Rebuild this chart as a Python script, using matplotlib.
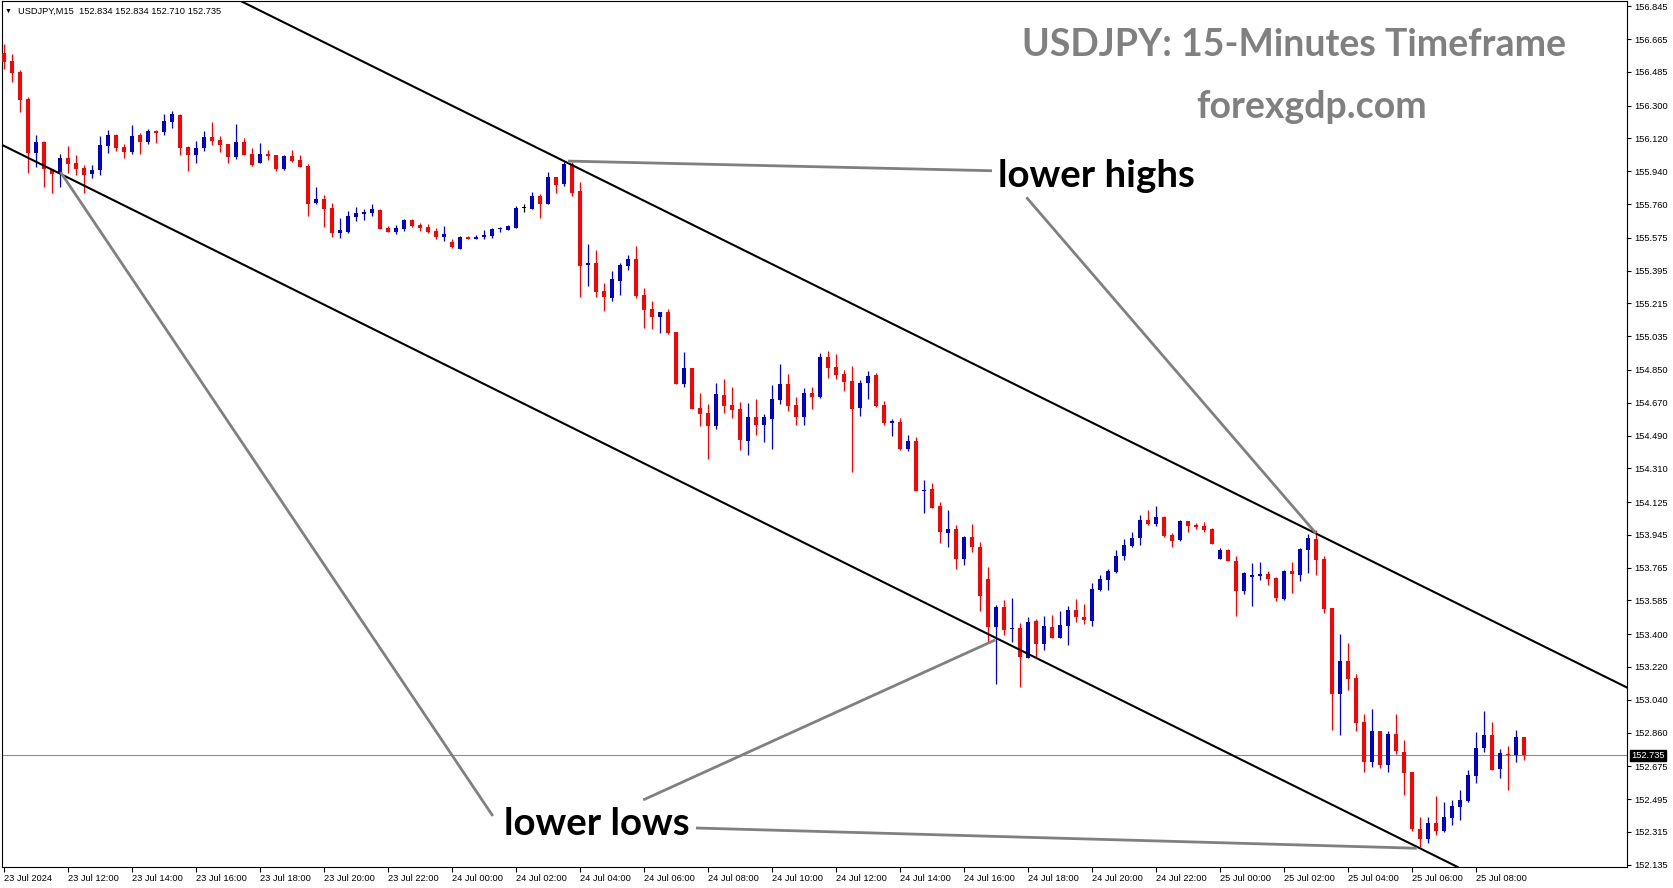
import numpy as np
import matplotlib
matplotlib.use("Agg")
import matplotlib.pyplot as plt
import matplotlib.transforms as mtransforms

# USDJPY M15 candles, 23 Jul 10:00 -> 25 Jul 09:30
opens = [156.591, 156.545, 156.485, 156.337, 156.042, 156.101, 155.951, 155.929, 156.013, 155.985,
         155.958, 155.927, 155.949, 156.080, 156.139, 156.073, 156.048, 156.139, 156.101, 156.163,
         156.157, 156.212, 156.249, 156.073, 156.031, 156.069, 156.128, 156.112, 156.090, 156.020,
         156.101, 156.035, 155.987, 156.035, 156.029, 155.954, 156.024, 156.002, 155.969, 155.768,
         155.788, 155.740, 155.603, 155.607, 155.689, 155.706, 155.713, 155.728, 155.629, 155.607,
         155.625, 155.673, 155.647, 155.636, 155.614, 155.581, 155.552, 155.515, 155.579, 155.570,
         155.581, 155.586, 155.622, 155.619, 155.630, 155.737, 155.735, 155.804, 155.762, 155.907,
         155.872, 155.980, 155.832, 155.427, 155.437, 155.283, 155.246, 155.340, 155.422, 155.459,
         155.261, 155.184, 155.142, 155.168, 155.058, 154.774, 154.860, 154.643, 154.613, 154.544,
         154.712, 154.657, 154.635, 154.461, 154.592, 154.549, 154.582, 154.686, 154.773, 154.657,
         154.593, 154.723, 154.703, 154.921, 154.866, 154.828, 154.789, 154.639, 154.778, 154.822,
         154.657, 154.560, 154.564, 154.416, 154.460, 154.187, 154.196, 154.103, 153.957, 153.977,
         153.814, 153.933, 153.878, 153.702, 153.441, 153.549, 153.426, 153.434, 153.271, 153.472,
         153.347, 153.441, 153.380, 153.446, 153.532, 153.494, 153.474, 153.642, 153.699, 153.743,
         153.830, 153.884, 153.929, 154.026, 154.004, 154.043, 153.944, 153.918, 154.019, 154.000,
         153.993, 153.977, 153.814, 153.862, 153.803, 153.638, 153.715, 153.719, 153.730, 153.708,
         153.594, 153.746, 153.726, 153.863, 153.922, 153.812, 153.543, 153.073, 153.252, 153.159,
         152.918, 152.700, 152.868, 152.683, 152.852, 152.753, 152.643, 152.332, 152.277, 152.362,
         152.321, 152.392, 152.453, 152.486, 152.623, 152.775, 152.846, 152.661, 152.742, 152.737,
         152.834]
highs = [156.639, 156.584, 156.496, 156.346, 156.139, 156.105, 155.955, 156.035, 156.079, 156.028,
         155.976, 155.974, 156.134, 156.167, 156.142, 156.090, 156.194, 156.152, 156.170, 156.166,
         156.254, 156.271, 156.254, 156.077, 156.106, 156.161, 156.210, 156.134, 156.091, 156.200,
         156.124, 156.069, 156.095, 156.057, 156.031, 156.028, 156.057, 156.028, 155.980, 155.852,
         155.808, 155.764, 155.684, 155.722, 155.744, 155.733, 155.760, 155.733, 155.640, 155.645,
         155.678, 155.678, 155.656, 155.651, 155.629, 155.641, 155.568, 155.584, 155.586, 155.590,
         155.618, 155.630, 155.634, 155.647, 155.750, 155.759, 155.826, 155.815, 155.936, 155.909,
         155.993, 155.993, 155.881, 155.541, 155.508, 155.327, 155.393, 155.438, 155.481, 155.530,
         155.300, 155.228, 155.170, 155.184, 155.060, 154.948, 154.862, 154.723, 154.663, 154.778,
         154.800, 154.756, 154.674, 154.668, 154.690, 154.608, 154.767, 154.882, 154.828, 154.701,
         154.751, 154.756, 154.944, 154.954, 154.937, 154.849, 154.871, 154.795, 154.844, 154.833,
         154.679, 154.581, 154.584, 154.493, 154.482, 154.246, 154.228, 154.123, 154.081, 153.997,
         153.938, 154.004, 153.905, 153.767, 153.560, 153.587, 153.600, 153.461, 153.496, 153.485,
         153.501, 153.507, 153.528, 153.556, 153.593, 153.565, 153.681, 153.724, 153.757, 153.862,
         153.922, 153.960, 154.054, 154.081, 154.103, 154.048, 153.957, 154.025, 154.021, 154.010,
         154.015, 153.980, 153.871, 153.866, 153.829, 153.743, 153.790, 153.796, 153.746, 153.712,
         153.752, 153.796, 153.873, 153.949, 153.971, 153.829, 153.545, 153.401, 153.351, 153.181,
         152.963, 152.989, 152.870, 152.868, 152.962, 152.819, 152.645, 152.398, 152.398, 152.513,
         152.479, 152.490, 152.545, 152.656, 152.863, 152.980, 152.918, 152.770, 152.786, 152.874,
         152.834]
lows = [156.500, 156.432, 156.267, 155.932, 155.965, 155.852, 155.822, 155.852, 155.929, 155.918,
        155.822, 155.905, 155.920, 156.042, 156.050, 156.015, 156.035, 156.035, 156.091, 156.097,
        156.141, 156.178, 156.031, 155.943, 155.987, 156.050, 156.086, 156.048, 155.987, 156.009,
        156.028, 155.970, 155.984, 156.004, 155.943, 155.947, 155.991, 155.962, 155.696, 155.760,
        155.636, 155.581, 155.575, 155.603, 155.669, 155.674, 155.696, 155.622, 155.607, 155.596,
        155.614, 155.636, 155.614, 155.603, 155.570, 155.559, 155.521, 155.512, 155.568, 155.568,
        155.570, 155.575, 155.608, 155.616, 155.628, 155.717, 155.731, 155.684, 155.760, 155.822,
        155.859, 155.806, 155.252, 155.312, 155.252, 155.175, 155.230, 155.263, 155.400, 155.246,
        155.082, 155.076, 155.054, 155.049, 154.772, 154.758, 154.635, 154.544, 154.363, 154.527,
        154.615, 154.588, 154.412, 154.385, 154.494, 154.456, 154.418, 154.665, 154.626, 154.549,
        154.549, 154.637, 154.697, 154.807, 154.802, 154.736, 154.290, 154.599, 154.692, 154.648,
        154.549, 154.487, 154.412, 154.405, 154.185, 154.065, 154.092, 153.900, 153.878, 153.757,
        153.779, 153.851, 153.528, 153.350, 153.128, 153.397, 153.358, 153.111, 153.268, 153.276,
        153.314, 153.378, 153.378, 153.342, 153.468, 153.457, 153.446, 153.639, 153.642, 153.737,
        153.807, 153.880, 153.891, 154.000, 153.995, 153.931, 153.880, 153.913, 153.962, 153.975,
        153.962, 153.894, 153.812, 153.800, 153.501, 153.622, 153.556, 153.699, 153.671, 153.583,
        153.589, 153.627, 153.693, 153.737, 153.726, 153.518, 152.874, 152.846, 153.095, 152.870,
        152.645, 152.672, 152.664, 152.645, 152.744, 152.519, 152.321, 152.233, 152.255, 152.299,
        152.316, 152.354, 152.382, 152.480, 152.585, 152.755, 152.654, 152.612, 152.546, 152.700,
        152.710]
closes = [156.541, 156.481, 156.333, 156.042, 156.101, 155.951, 155.927, 156.013, 155.982, 155.954,
          155.921, 155.945, 156.084, 156.138, 156.069, 156.048, 156.134, 156.101, 156.159, 156.152,
          156.216, 156.254, 156.069, 156.031, 156.068, 156.128, 156.108, 156.086, 156.020, 156.101,
          156.031, 155.974, 156.035, 156.026, 155.954, 156.024, 155.996, 155.965, 155.762, 155.788,
          155.735, 155.603, 155.618, 155.695, 155.711, 155.718, 155.733, 155.625, 155.608, 155.629,
          155.673, 155.641, 155.630, 155.608, 155.581, 155.596, 155.526, 155.581, 155.570, 155.581,
          155.592, 155.625, 155.625, 155.641, 155.740, 155.737, 155.804, 155.762, 155.909, 155.866,
          155.980, 155.822, 155.422, 155.437, 155.279, 155.252, 155.349, 155.426, 155.459, 155.257,
          155.180, 155.142, 155.168, 155.054, 154.774, 154.860, 154.637, 154.610, 154.544, 154.718,
          154.654, 154.632, 154.467, 154.592, 154.549, 154.592, 154.690, 154.773, 154.654, 154.593,
          154.723, 154.703, 154.921, 154.860, 154.822, 154.785, 154.637, 154.778, 154.817, 154.652,
          154.560, 154.571, 154.416, 154.460, 154.187, 154.193, 154.094, 153.960, 153.977, 153.814,
          153.933, 153.880, 153.611, 153.441, 153.549, 153.424, 153.434, 153.276, 153.466, 153.347,
          153.446, 153.380, 153.450, 153.532, 153.496, 153.477, 153.648, 153.702, 153.748, 153.829,
          153.889, 153.927, 154.026, 154.004, 154.043, 153.940, 153.913, 154.021, 153.995, 153.989,
          153.971, 153.896, 153.862, 153.803, 153.638, 153.735, 153.724, 153.730, 153.704, 153.600,
          153.746, 153.732, 153.867, 153.927, 153.808, 153.540, 153.073, 153.252, 153.155, 152.914,
          152.700, 152.868, 152.683, 152.852, 152.760, 152.639, 152.332, 152.277, 152.362, 152.321,
          152.398, 152.457, 152.490, 152.627, 152.775, 152.846, 152.656, 152.748, 152.737, 152.835,
          152.735]

price_ticks = [156.845, 156.665, 156.485, 156.300, 156.120, 155.940, 155.760, 155.575, 155.395,
               155.215, 155.035, 154.850, 154.670, 154.490, 154.310, 154.125, 153.945, 153.765,
               153.585, 153.400, 153.220, 153.040, 152.860, 152.675, 152.495, 152.315, 152.135]
time_labels = ["23 Jul 2024", "23 Jul 12:00", "23 Jul 14:00", "23 Jul 16:00", "23 Jul 18:00",
               "23 Jul 20:00", "23 Jul 22:00", "24 Jul 00:00", "24 Jul 02:00", "24 Jul 04:00",
               "24 Jul 06:00", "24 Jul 08:00", "24 Jul 10:00", "24 Jul 12:00", "24 Jul 14:00",
               "24 Jul 16:00", "24 Jul 18:00", "24 Jul 20:00", "24 Jul 22:00", "25 Jul 00:00",
               "25 Jul 02:00", "25 Jul 04:00", "25 Jul 06:00", "25 Jul 08:00"]
bars_per_label = 8

# channel lines, (bar, price) anchor points
upper_channel = [(67.0, 156.061), (109.5, 155.137)]
lower_channel = [(-0.21, 156.084), (107.0, 153.749)]

# annotation segments, (bar, price)
lower_highs_lines = [[(70.5, 155.996), (123.5, 155.943)],
                     [(127.8, 155.797), (164.0, 153.953)]]
lower_lows_lines = [[(7.06, 155.936), (61.1, 152.402)],
                    [(79.9, 152.490), (123.9, 153.368)],
                    [(86.5, 152.336), (176.6, 152.225)]]
lower_highs_pos = (124.2, 155.856)
lower_lows_pos = (62.45, 152.300)

W, H = 1673, 888
fig = plt.figure(figsize=(W / 100, H / 100), dpi=100)
ax = fig.add_axes([2 / W, 1 - 867 / H, 1625 / W, 866 / H])

o = np.array(opens); h = np.array(highs); l = np.array(lows); c = np.array(closes)
x = np.arange(len(o))
bull, bear = "#0000CD", "#FF0000"
cols = np.where(c > o, bull, np.where(c < o, bear, "black"))

px = (156.8745 - 152.122) / 866.0
ax.vlines(x, l, h, colors=cols, linewidth=0.9, zorder=3)
body_lo = np.minimum(o, c)
body_h = np.maximum(np.abs(c - o), px)
ax.bar(x, body_h, bottom=body_lo, width=0.6, color=cols, linewidth=0, zorder=4)

for p1, p2 in (upper_channel, lower_channel):
    ax.axline(p1, p2, color="black", lw=1.5, zorder=5)

for seg in lower_highs_lines + lower_lows_lines:
    (x1, y1), (x2, y2) = seg
    ax.plot([x1, x2], [y1, y2], color="#808080", lw=2.0, solid_capstyle="butt", zorder=6)

ax.axhline(closes[-1], color="#8C8C8C", lw=0.8, zorder=2)

txt_font = ["Lato", "DejaVu Sans"]
ax.text(*lower_highs_pos, "lower highs", fontsize=27.6, fontweight="bold", family=txt_font,
        color="black", ha="left", va="baseline", zorder=7)
ax.text(*lower_lows_pos, "lower lows", fontsize=27.6, fontweight="bold", family=txt_font,
        color="black", ha="left", va="baseline", zorder=7)

fig.text(1294 / W, 1 - 56.5 / H, "USDJPY: 15-Minutes Timeframe", fontsize=27, fontweight="bold",
         family=txt_font, color="#808080", ha="center", va="baseline")
fig.text(1312 / W, 1 - 118.5 / H, "forexgdp.com", fontsize=27, fontweight="bold",
         family=txt_font, color="#808080", ha="center", va="baseline")

small = ["Liberation Sans", "DejaVu Sans"]
fig.text(5 / W, 1 - 11 / H, "\u25bc", fontsize=5, family=small, va="center", ha="left")
fig.text(18 / W, 1 - 11 / H,
         "USDJPY,M15  %.3f %.3f %.3f %.3f" % (opens[-1], highs[-1], lows[-1], closes[-1]),
         fontsize=6.7, family=small, va="center", ha="left")

ax.set_xlim(-0.25, 202.875)
ax.set_ylim(152.122, 156.8745)

ax.yaxis.tick_right()
ax.set_yticks(price_ticks)
ax.set_yticklabels(["%.3f" % v for v in price_ticks], family=small, fontsize=6.7)
ax.set_xticks(np.arange(len(time_labels)) * bars_per_label)
ax.set_xticklabels(time_labels, family=small, fontsize=6.7, ha="left")
ax.tick_params(axis="y", direction="out", length=3, width=0.8, pad=2)
ax.tick_params(axis="x", direction="out", length=3.5, width=0.8, pad=1.5)
for s in ax.spines.values():
    s.set_color("black")
    s.set_linewidth(0.8)

blend = mtransforms.blended_transform_factory(ax.transAxes, ax.transData)
ax.text(1.0025, closes[-1], "%.3f" % closes[-1], transform=blend, fontsize=6.7, family=small,
        color="white", ha="left", va="center", clip_on=False, zorder=10,
        bbox=dict(boxstyle="square,pad=0.12", fc="black", ec="black"))

fig.savefig("out.png", dpi=100, facecolor="white")
